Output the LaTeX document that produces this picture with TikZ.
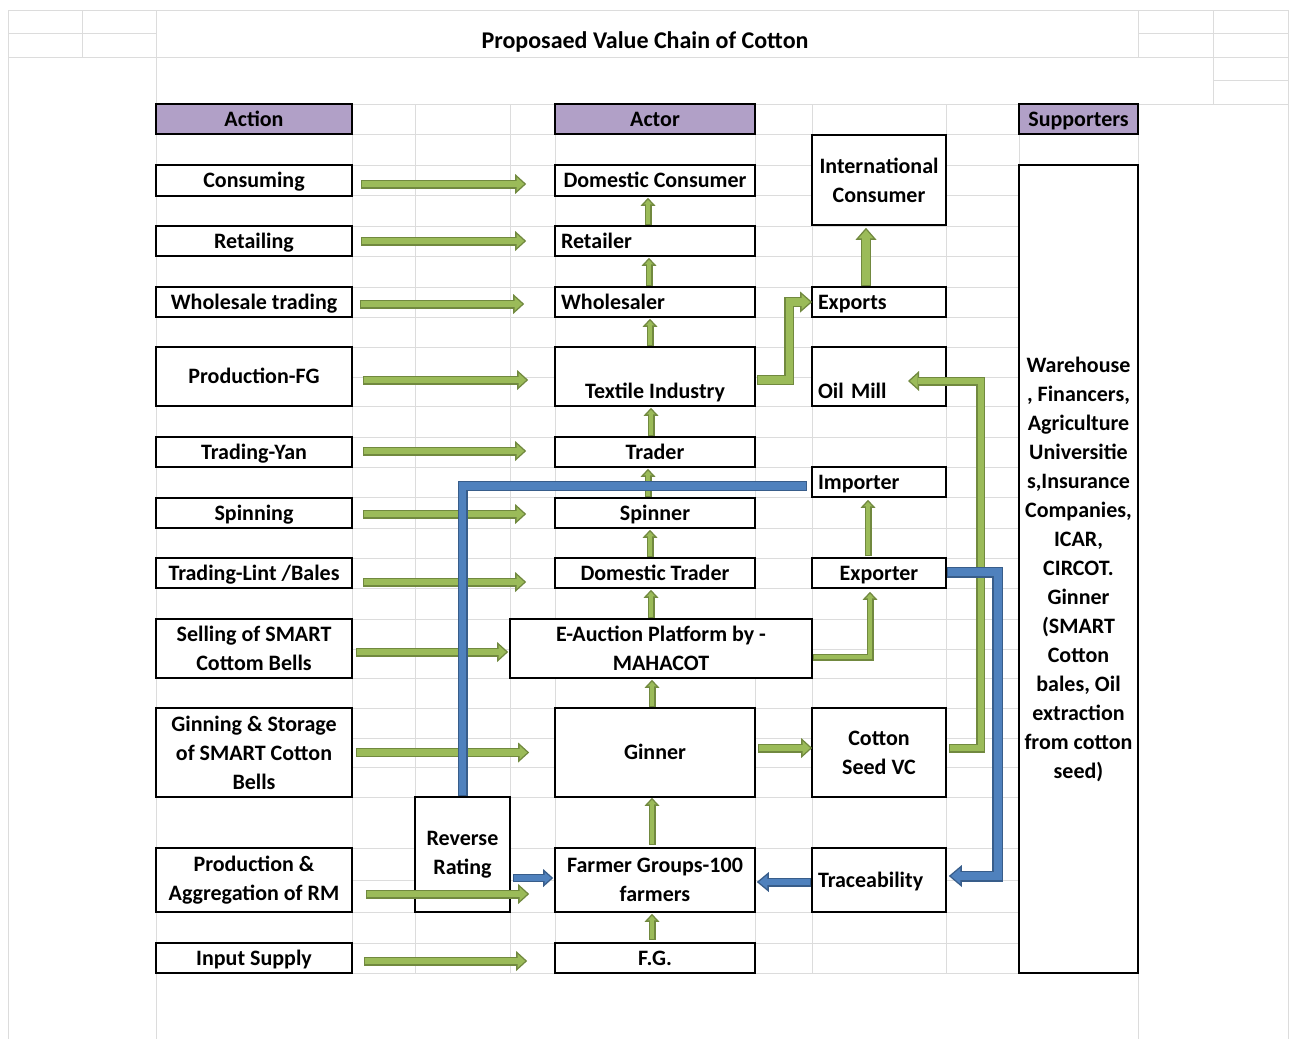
\documentclass[tikz,border=0pt]{standalone}
\usepackage{fontspec}
\setmainfont{Carlito}
\usetikzlibrary{arrows.meta,calc}
\definecolor{hdr}{HTML}{B1A0C7}
\definecolor{gfill}{HTML}{9BBB59}
\definecolor{gline}{HTML}{71893F}
\definecolor{bfill}{HTML}{4F81BD}
\definecolor{bline}{HTML}{385D8A}
\definecolor{gridc}{HTML}{DCDCDC}

% fat outlined arrow: #1 border colour, #2 fill colour, #3 shaft width, #4 head width, #5 head length, #6 path
\newcommand\fatarrow[6]{%
  \pgfmathsetmacro\fab{1.4}%
  \pgfmathsetmacro\fasin{(#4/2)/sqrt((#4/2)^2+(#5)^2)}%
  \pgfmathsetmacro\fas{\fab/\fasin}%
  \pgfmathsetmacro\faLi{#5-\fab-\fas}%
  \pgfmathsetmacro\faHi{#4*\faLi/#5}%
  \pgfmathsetmacro\faWi{#3-2*\fab}%
  \draw[draw=#1, line width=#3pt, line join=miter, -{Triangle[width=#4pt,length=#5pt,line width=0pt]}] #6;
  \draw[draw=#2, line width=\faWi pt, line join=miter, shorten <=\fab pt, shorten >=\fas pt, -{Triangle[width=\faHi pt,length=\faLi pt,line width=0pt]}] #6;
}
% fat outlined line without head
\newcommand\fatline[4]{%
  \pgfmathsetmacro\fab{1.4}%
  \pgfmathsetmacro\faWi{#3-2*\fab}%
  \draw[draw=#1, line width=#3pt, line join=miter] #4;
  \draw[draw=#2, line width=\faWi pt, line join=miter, shorten <=\fab pt, shorten >=\fab pt] #4;
}
\newcommand\gbig[1]{\fatarrow{gline}{gfill}{9}{20}{11}{#1}}
\newcommand\gsmall[1]{\fatarrow{gline}{gfill}{7}{15}{8}{#1}}

\begin{document}
\begin{tikzpicture}[x=1pt,y=-1pt,
  mbox/.style={draw=black, line width=1.6pt, fill=white, inner sep=0pt,
    font=\bfseries\fontsize{22}{29}\selectfont, align=center},
  box/.style={mbox, text height=17pt, text depth=2.6pt},
  lowbox/.style={mbox, text height=45.6pt, text depth=2.6pt},
  hbox/.style={box, fill=hdr},
  lbox/.style={box, align=left, text width=#1},
  gl/.style={draw=gridc, line width=0.9pt}]
\useasboundingbox (0,0) rectangle (1290,1039);

% ---------------- spreadsheet grid ----------------
\draw[gl] (8,10) -- (1288,10);
\draw[gl] (8,33) -- (156,33);
\draw[gl] (1138,33) -- (1288,33);
\draw[gl] (8,57) -- (1288,57);
\draw[gl] (1213,80) -- (1288,80);
\draw[gl] (1138,104) -- (1288,104);
\draw[gl] (8,10) -- (8,1039);
\draw[gl] (1288,10) -- (1288,1039);
\draw[gl] (82,10) -- (82,57);
\draw[gl] (156,10) -- (156,1039);
\draw[gl] (1138,10) -- (1138,57);
\draw[gl] (1213,10) -- (1213,104);
\draw[gl] (1138,973) -- (1138,1039);
\foreach \yy in {104,134,165,195,226,256,287,317,347,377,406,437,467,497,528,558,588,619,649,678,708,738,767,797,848,880,912,943,973}
  \draw[gl] (156,\yy) -- (1138,\yy);
\foreach \xx in {352,415,510,555,755,812,946,1019,1138}
  \draw[gl] (\xx,104) -- (\xx,973);

% ---------------- title ----------------
\node[font=\bfseries\fontsize{24}{28}\selectfont] (title) at (645,42) {Proposaed Value Chain of Cotton};

% ---------------- left column: actions ----------------
\node[hbox, minimum width=196pt, minimum height=30pt] (action) at (254,119) {Action};
\node[box, minimum width=196pt, minimum height=31pt] (consuming) at (254,180.5) {Consuming};
\node[box, minimum width=196pt, minimum height=30pt] (retailing) at (254,241) {Retailing};
\node[box, minimum width=196pt, minimum height=30pt] (wholesale) at (254,302) {Wholesale trading};
\node[box, minimum width=196pt, minimum height=59pt] (prodfg) at (254,376.5) {Production-FG};
\node[box, minimum width=196pt, minimum height=30pt] (tradyan) at (254,452) {Trading-Yan};
\node[box, minimum width=196pt, minimum height=30pt] (spinning) at (254,513) {Spinning};
\node[box, minimum width=196pt, minimum height=30pt] (tradlint) at (254,573) {Trading-Lint /Bales};
\node[mbox, minimum width=196pt, minimum height=59pt] (selling) at (254,648.5) {Selling of SMART\\Cottom Bells};
\node[mbox, minimum width=196pt, minimum height=89pt] (ginning) at (254,752.5) {Ginning \& Storage\\of SMART Cotton\\Bells};
\node[mbox, minimum width=196pt, minimum height=64pt] (prodagg) at (254,880) {Production \&\\Aggregation of RM};
\node[box, minimum width=196pt, minimum height=30pt] (input) at (254,958) {Input Supply};

% ---------------- middle column: actors ----------------
\node[hbox, minimum width=200pt, minimum height=30pt] (actor) at (655,119) {Actor};
\node[box, minimum width=200pt, minimum height=31pt] (domcons) at (655,180.5) {Domestic Consumer};
\node[lbox=188pt, minimum width=200pt, minimum height=30pt] (retailer) at (655,241) {Retailer};
\node[lbox=188pt, minimum width=200pt, minimum height=30pt] (wholesaler) at (655,302) {Wholesaler};
\node[lowbox, minimum width=200pt, minimum height=59pt] (textile) at (655,376.5) {Textile Industry};
\node[box, minimum width=200pt, minimum height=30pt] (trader) at (655,452) {Trader};
\node[box, minimum width=200pt, minimum height=30pt] (spinner) at (655,513) {Spinner};
\node[box, minimum width=200pt, minimum height=30pt] (domtrader) at (655,573) {Domestic Trader};
\node[mbox, minimum width=302pt, minimum height=59pt] (eauction) at (661,648.5) {E-Auction Platform by -\\MAHACOT};
\node[box, minimum width=200pt, minimum height=89pt] (ginner) at (655,752.5) {Ginner};
\node[mbox, minimum width=200pt, minimum height=64pt] (farmer) at (655,880) {Farmer Groups-100\\farmers};
\node[box, minimum width=200pt, minimum height=30pt] (fg) at (655,958) {F.G.};

% ---------------- right column ----------------
\node[mbox, minimum width=134pt, minimum height=90pt] (intl) at (879,180) {International\\Consumer};
\node[lbox=122pt, minimum width=134pt, minimum height=30pt] (exports) at (879,302) {Exports};
\node[lowbox, align=left, text width=122pt, minimum width=134pt, minimum height=59pt] (oilmill) at (879,376.5) {Oil Mill};
\node[lbox=122pt, minimum width=134pt, minimum height=30pt] (importer) at (879,482) {Importer};
\node[box, minimum width=134pt, minimum height=30pt] (exporter) at (879,573) {Exporter};
\node[mbox, minimum width=134pt, minimum height=89pt] (seedvc) at (879,752.5) {Cotton\\Seed VC};
\node[lbox=122pt, minimum width=134pt, minimum height=64pt] (trace) at (879,880) {Traceability};

\node[mbox, minimum width=95pt, minimum height=115pt] (reverse) at (462.5,854.5) {Reverse\\Rating};

% ---------------- supporters ----------------
\node[hbox, minimum width=119pt, minimum height=30pt] (suphdr) at (1078.5,119) {Supporters};
\node[mbox, minimum width=119pt, minimum height=808pt] (supporters) at (1078.5,569)
  {Warehouse\\, Financers,\\Agriculture\\Universitie\\s,Insurance\\Companies,\\ICAR,\\CIRCOT.\\Ginner\\(SMART\\Cotton\\bales, Oil\\extraction\\from cotton\\seed)};

% ---------------- green arrows: actions to actors ----------------
\gbig{([xshift=8pt,yshift=-3.5pt]consuming.east) -- ([xshift=-28pt,yshift=-3.5pt]domcons.west)}
\gbig{([xshift=8pt]retailing.east) -- ([xshift=-28pt]retailer.west)}
\gbig{([xshift=7pt,yshift=-2pt]wholesale.east) -- ([xshift=-30pt,yshift=-2pt]wholesaler.west)}
\gbig{([xshift=10pt,yshift=-3.5pt]prodfg.east) -- ([xshift=-26pt,yshift=-3.5pt]textile.west)}
\gbig{([xshift=10pt,yshift=1pt]tradyan.east) -- ([xshift=-28pt,yshift=1pt]trader.west)}
\gbig{([xshift=10pt,yshift=-1pt]spinning.east) -- ([xshift=-28pt,yshift=-1pt]spinner.west)}
\gbig{([xshift=10pt,yshift=-9pt]tradlint.east) -- ([xshift=-28pt,yshift=-9pt]domtrader.west)}
\gbig{([xshift=3pt,yshift=-3.5pt]selling.east) -- ([xshift=-1pt,yshift=-3.5pt]eauction.west)}
\gbig{([xshift=3pt]ginning.east) -- ([xshift=-25pt]ginner.west)}
\gbig{([xshift=13pt,yshift=-14pt]prodagg.east) -- ([xshift=-25pt,yshift=-14pt]farmer.west)}
\gbig{([xshift=11pt,yshift=-3pt]input.east) -- ([xshift=-27pt,yshift=-3pt]fg.west)}

% ---------------- green arrows: up the actor chain ----------------
\gsmall{([xshift=-3pt,yshift=2pt]fg.north) -- ([xshift=-3pt,yshift=-1pt]farmer.south)}
\gsmall{([xshift=-3pt,yshift=2pt]farmer.north) -- ([xshift=-3pt]ginner.south)}
\gsmall{([xshift=-3pt]ginner.north) -- ([xshift=-9pt,yshift=-1pt]eauction.south)}
\gsmall{([xshift=-10pt]eauction.north) -- ([xshift=-4pt,yshift=-1pt]domtrader.south)}
\gsmall{([xshift=-5pt]domtrader.north) -- ([xshift=-5pt,yshift=-1pt]spinner.south)}
\gsmall{([xshift=-7pt]spinner.north) -- ([xshift=-7pt,yshift=-1pt]trader.south)}
\gsmall{([xshift=-4pt]trader.north) -- ([xshift=-4pt,yshift=-1pt]textile.south)}
\gsmall{([xshift=-5pt]textile.north) -- ([xshift=-5pt,yshift=-1pt]wholesaler.south)}
\gsmall{([xshift=-6pt]wholesaler.north) -- ([xshift=-6pt,yshift=-1pt]retailer.south)}
\gsmall{([xshift=-7pt]retailer.north) -- ([xshift=-7pt,yshift=-1pt]domcons.south)}

% ---------------- green arrows: right side ----------------
\fatarrow{gline}{gfill}{10}{21}{12}{([xshift=1pt,yshift=-3.5pt]textile.east) -| ([xshift=-22pt]exports.west) -- ([xshift=1pt]exports.west)}
\fatarrow{gline}{gfill}{10}{21}{12}{([xshift=-13pt]exports.north) -- ([xshift=-13pt,yshift=-2pt]intl.south)}
\gsmall{([yshift=-8.5pt]eauction.east) -| ([xshift=-9pt,yshift=-3pt]exporter.south)}
\gsmall{([xshift=-11pt,yshift=1pt]exporter.north) -- ([xshift=-11pt,yshift=-2pt]importer.south)}
\gbig{([xshift=2pt,yshift=4.5pt]ginner.east) -- ([xshift=1pt,yshift=4.5pt]seedvc.west)}
\gbig{([xshift=2pt,yshift=4.5pt]seedvc.east) -| ([xshift=34pt,yshift=-4.5pt]oilmill.east) -- ([xshift=29pt,yshift=-4.5pt]oilmill.center)}

% ---------------- blue connectors ----------------
\fatline{bline}{bfill}{10}{(reverse.north) |- ([xshift=-4pt,yshift=-4pt]importer.west)}
\fatarrow{bline}{bfill}{8}{18}{10}{($(reverse.east|-farmer.west)+(2pt,2pt)$) -- ($(farmer.west)+(-1pt,2pt)$)}
\fatarrow{bline}{bfill}{11}{22}{13}{([yshift=1pt]exporter.east) -| ([xshift=51pt,yshift=4pt]trace.east) -- ([xshift=2pt,yshift=4pt]trace.east)}
\fatarrow{bline}{bfill}{9}{20}{12}{([yshift=-2pt]trace.west) -- ([xshift=1pt,yshift=-2pt]farmer.east)}

\end{tikzpicture}
\end{document}
